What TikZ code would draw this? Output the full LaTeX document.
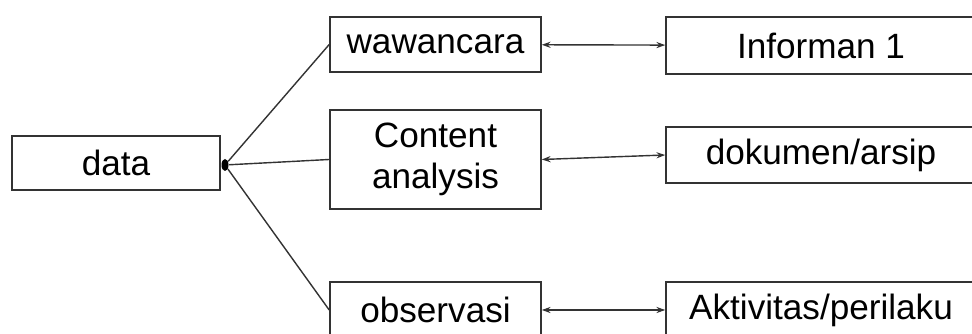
\documentclass[tikz,border=0pt]{standalone}
\usepackage{fontspec}
\setmainfont{Liberation Sans}
\usetikzlibrary{positioning,arrows.meta,shapes.geometric}

\tikzset{
  box/.style={draw=black!80, line width=0.9pt, inner sep=0pt, align=center,
    font=\fontsize{20}{23.5}\selectfont},
  link/.style={draw=black!80, line width=0.8pt},
  >={Stealth[length=5pt,width=3.5pt]}
}

\begin{document}
\begin{tikzpicture}
  \useasboundingbox (0,0) rectangle (19.44,6.68);
  \node[box, minimum width=4.16cm, minimum height=1.08cm] (data) at (2.32,3.42) {data};
  \node[box, minimum width=4.22cm, minimum height=1.10cm] (wawancara) at (8.71,5.79) {wawancara};
  \node[box, minimum width=4.22cm, minimum height=1.98cm] (content) at (8.71,3.49) {Content\\analysis};
  \node[box, minimum width=4.22cm, minimum height=1.12cm] (observasi) at (8.71,0.48) {observasi};
  \node[box, minimum width=6.2cm, minimum height=1.14cm] (informan) at (16.42,5.77) {Informan 1};
  \node[box, minimum width=6.2cm, minimum height=1.12cm] (dokumen) at (16.42,3.58) {dokumen/arsip};
  \node[box, minimum width=6.2cm, minimum height=1.12cm] (aktivitas) at (16.42,0.48) {Aktivitas/perilaku};

  % branching point
  \node[fill=black, ellipse, inner sep=0pt, minimum width=0.14cm, minimum height=0.24cm] (split) at (4.50,3.38) {};

  \draw[link] (split) -- (wawancara.west);
  \draw[link] (split) -- (content.west);
  \draw[link] (split) -- (observasi.west);

  \draw[link,<->] (wawancara) -- (informan);
  \draw[link,<->] (content.east) -- (dokumen.west);
  \draw[link,<->] (observasi) -- (aktivitas);
\end{tikzpicture}
\end{document}
